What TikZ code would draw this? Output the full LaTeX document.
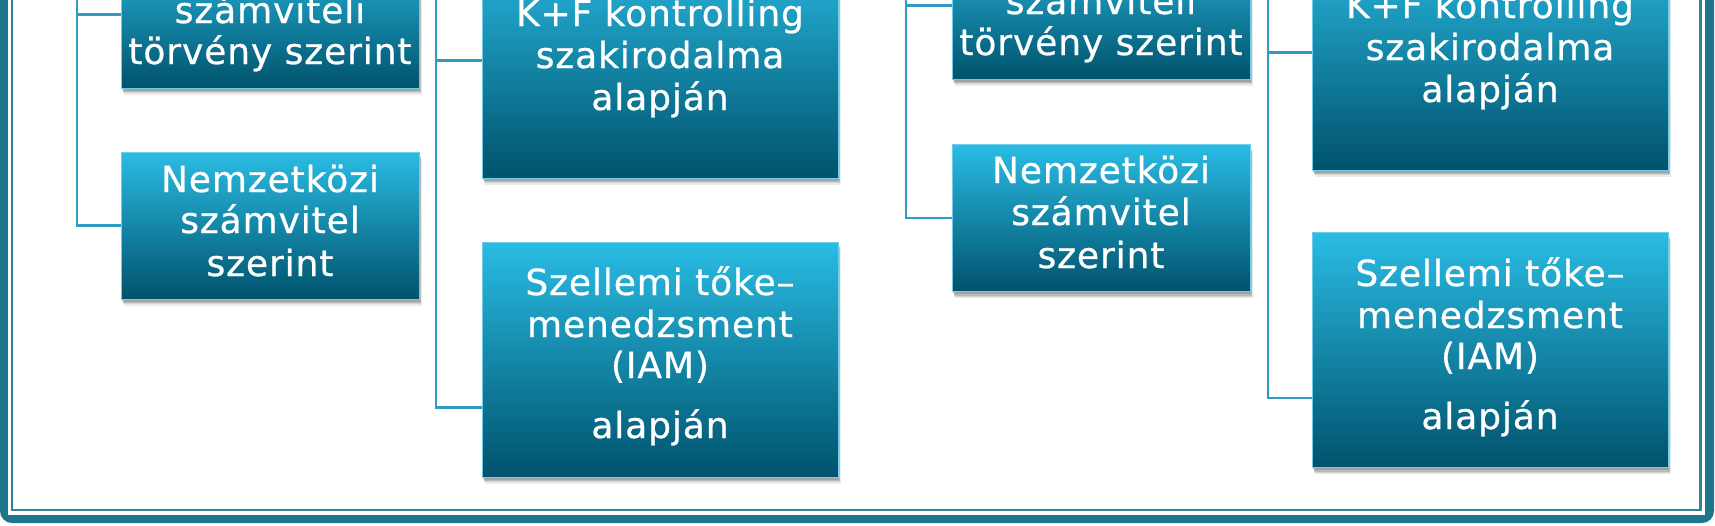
\documentclass[tikz,border=0pt]{standalone}
\usepackage{fontspec}
\setmainfont{DejaVu Sans}
\newfontfamily\boxfont{DejaVu Sans}[LetterSpace=2.5,FakeBold=0.7]
\usetikzlibrary{shadows,calc}
\definecolor{bandcol}{RGB}{30,118,138}
\definecolor{framecol}{RGB}{46,132,153}
\definecolor{linkcol}{RGB}{48,155,195}
\definecolor{btop}{RGB}{42,188,228}
\definecolor{bmid}{RGB}{0,133,172}
\definecolor{bbot}{RGB}{0,82,108}
\definecolor{bedge}{RGB}{110,205,232}
\begin{document}
\begin{tikzpicture}[x=0.75pt,y=-0.75pt,
  box/.style={rectangle, inner sep=0pt, top color=btop, middle color=bmid, bottom color=bbot,
    draw=bedge, line width=0.6pt,
    drop shadow={shadow xshift=2.2pt,shadow yshift=-5pt,opacity=0.08,fill=black},
    drop shadow={shadow xshift=1.8pt,shadow yshift=-4pt,opacity=0.1,fill=black},
    drop shadow={shadow xshift=1.3pt,shadow yshift=-3pt,opacity=0.12,fill=black},
    drop shadow={shadow xshift=0.8pt,shadow yshift=-2pt,opacity=0.12,fill=black}},
  smallbox/.style={box, minimum width=223.5pt, minimum height=110.25pt},
  bigbox/.style={box, minimum width=267pt, minimum height=176.25pt},
  txt/.style={anchor=base, inner sep=0pt, text=white, font=\boxfont\fontsize{27pt}{32pt}\selectfont},
  link/.style={draw=linkcol, line width=2pt}
]
\useasboundingbox (0,0) rectangle (1715,525);
% frame
\fill[bandcol, rounded corners=9] (0,-60) rectangle (1714,523);
\fill[white] (8,-60) rectangle (1705,515);
\draw[framecol, line width=2.2pt] (12,-60) rectangle (1700.5,510);

% boxes
\node[smallbox] (A) at (270,14.5) {};
\node[smallbox] (B) at (270,225.5) {};
\node[bigbox] (C) at (660,60.5) {};
\node[bigbox] (D) at (660,359.5) {};
\node[smallbox] (E) at (1101,5.5) {};
\node[smallbox] (F) at (1101,218) {};
\node[bigbox] (G) at (1490,52.5) {};
\node[bigbox] (H) at (1490,350) {};

% connectors
\coordinate (pL) at (77,-80);
\coordinate (pC) at (436,-80);
\coordinate (pR) at (906,-80);
\coordinate (pG) at (1268,-80);
\draw[link] (pL) |- (A.west);
\draw[link] (pL) |- (B.west);
\draw[link] (pC) |- (C.west);
\draw[link] (pC) |- ($(D.south west)+(0,-70)$);
\draw[link] (pR) |- (E.west);
\draw[link] (pR) |- (F.west);
\draw[link] (pG) |- (G.west);
\draw[link] (pG) |- ($(H.south west)+(0,-70)$);

% texts
\node[txt] (A1) at (270,23) {számviteli};
\node[txt] (A2) at (270,64) {törvény szerint};
\node[txt] (B1) at (270,192) {Nemzetközi};
\node[txt] (B2) at (270,233) {számvitel};
\node[txt] (B3) at (270,276) {szerint};
\node[txt] (C1) at (660,26) {K+F kontrolling};
\node[txt] (C2) at (660,68) {szakirodalma};
\node[txt] (C3) at (660,110) {alapján};
\node[txt] (D1) at (660,295) {Szellemi tőke–};
\node[txt] (D2) at (660,337) {menedzsment};
\node[txt] (D3) at (660,378) {(IAM)};
\node[txt] (D4) at (660,438) {alapján};
\node[txt] (E1) at (1101,14) {számviteli};
\node[txt] (E2) at (1101,55) {törvény szerint};
\node[txt] (F1) at (1101,183) {Nemzetközi};
\node[txt] (F2) at (1101,225) {számvitel};
\node[txt] (F3) at (1101,268) {szerint};
\node[txt] (G1) at (1490,18) {K+F kontrolling};
\node[txt] (G2) at (1490,60) {szakirodalma};
\node[txt] (G3) at (1490,102) {alapján};
\node[txt] (H1) at (1490,286) {Szellemi tőke–};
\node[txt] (H2) at (1490,328) {menedzsment};
\node[txt] (H3) at (1490,369) {(IAM)};
\node[txt] (H4) at (1490,429) {alapján};
\end{tikzpicture}
\end{document}
